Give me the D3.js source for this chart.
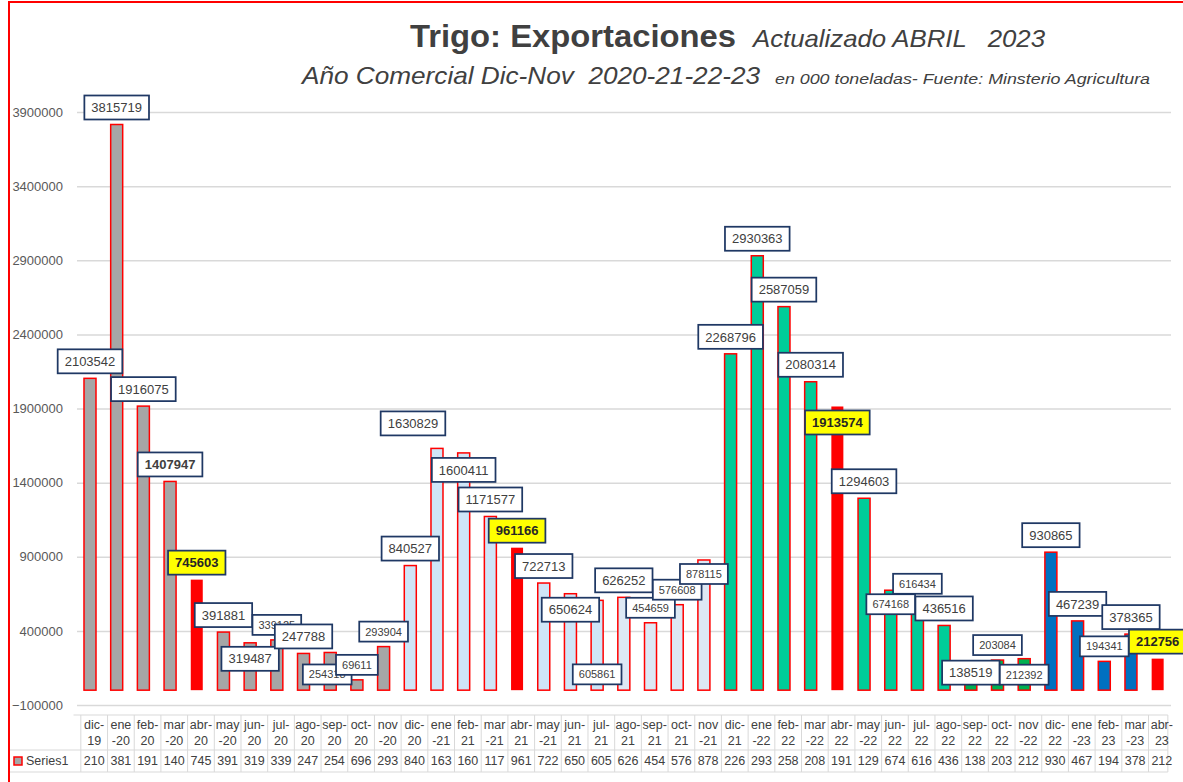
<!DOCTYPE html>
<meta charset="utf-8">
<title>Trigo: Exportaciones</title>
<style>
    body { margin: 0; background: #fff; }
    svg { display: block; font-family: "Liberation Sans", Arial, sans-serif; }
    .grid line { stroke: #d9d9d9; stroke-width: 1.5px; }
    .grid path { display: none; }
    .yaxis path { display: none; }
    .yaxis text { fill: #595959; font-size: 13px; }
    .cell { fill: none; stroke: #d9d9d9; stroke-width: 1px; }
    .titulo text { white-space: pre; }
</style>
<body>
</body>

<script src="https://d3js.org/d3.v7.min.js"></script>
<script>
    const width = 1183, height = 782;

    // categorias (mes-año) y exportaciones en toneladas
    const meses = ["dic-19", "ene-20", "feb-20", "mar-20", "abr-20", "may-20", "jun-20", "jul-20", "ago-20", "sep-20", "oct-20", "nov-20",
        "dic-20", "ene-21", "feb-21", "mar-21", "abr-21", "may-21", "jun-21", "jul-21", "ago-21", "sep-21", "oct-21", "nov-21",
        "dic-21", "ene-22", "feb-22", "mar-22", "abr-22", "may-22", "jun-22", "jul-22", "ago-22", "sep-22", "oct-22", "nov-22",
        "dic-22", "ene-23", "feb-23", "mar-23", "abr-23"];

    const toneladas = [2103542, 3815719, 1916075, 1407947, 745603, 391881, 319487, 339125, 247788, 254318, 69611, 293904,
        840527, 1630829, 1600411, 1171577, 961166, 722713, 650624, 605861, 626252, 454659, 576608, 878115,
        2268796, 2930363, 2587059, 2080314, 1913574, 1294603, 674168, 616434, 436516, 138519, 203084, 212392,
        930865, 467239, 194341, 378365, 212756];

    const yTicks = [-100000, 400000, 900000, 1400000, 1900000, 2400000, 2900000, 3400000, 3900000];

    // meses que Excel corta antes del guion
    const cortaAntes = ["ene", "mar", "may", "nov"];

    // --- estilo ---
    const colorBarra = i => {
        const mes = meses[i].slice(0, 3);
        if (mes === "abr") return "#ff0000";
        if (i < 12) return "#a6a6a6";
        if (i < 20) return "#cfe5f7";
        if (i < 24) return "#dde8f4";
        if (i >= 33 && i <= 35) return "#00b050";
        if (i < 36) return "#00cc99";
        return "#0070c0";
    };
    const resaltado = i => meses[i].startsWith("abr");
    const negrita = [3];
    const chica = [7, 9, 10, 11, 19, 21, 22, 23, 30, 31, 34, 35, 38];
    // ajustes manuales de las etiquetas (dx, dy) respecto de su posicion por defecto
    const ajuste = {6: [0, 33], 9: [-3, 37], 13: [-24, -8], 14: [0, 34], 18: [0, 33], 19: [0, 89],
        23: [0, 29], 28: [0, 33], 30: [0, 29], 33: [0, 20], 35: [0, 31]};

    const svg = d3.select("body").append("svg")
        .attr("width", width)
        .attr("height", height);

    const x = d3.scaleBand()
        .domain(meses)
        .range([76.65, 1171])
        .paddingInner(0.55)
        .paddingOuter(0.275);

    const y = d3.scaleLinear()
        .domain([-100000, 3900000])
        .range([705, 112]);

    // borde rojo del grafico
    svg.append("rect")
        .attr("x", 9).attr("y", 2)
        .attr("width", width + 20).attr("height", height + 20)
        .attr("fill", "none")
        .attr("stroke", "#ff0000")
        .attr("stroke-width", 2);

    // titulos
    const titulo = svg.append("g").attr("class", "titulo").attr("fill", "#404040");
    titulo.append("text").attr("x", 410).attr("y", 47)
        .attr("font-size", 32).attr("font-weight", "bold")
        .attr("textLength", 326).attr("lengthAdjust", "spacingAndGlyphs")
        .text("Trigo: Exportaciones");
    titulo.append("text").attr("x", 753).attr("y", 47)
        .attr("xml:space", "preserve")
        .attr("font-size", 24).attr("font-style", "italic")
        .attr("textLength", 292).attr("lengthAdjust", "spacingAndGlyphs")
        .text("Actualizado ABRIL   2023");
    titulo.append("text").attr("x", 302).attr("y", 84)
        .attr("xml:space", "preserve")
        .attr("font-size", 24).attr("font-style", "italic")
        .attr("textLength", 458).attr("lengthAdjust", "spacingAndGlyphs")
        .text("Año Comercial Dic-Nov  2020-21-22-23");
    titulo.append("text").attr("x", 775).attr("y", 84)
        .attr("font-size", 15).attr("font-style", "italic")
        .attr("textLength", 375).attr("lengthAdjust", "spacingAndGlyphs")
        .text("en 000 toneladas- Fuente: Minsterio Agricultura");

    // grilla y eje
    svg.append("g")
        .attr("class", "grid")
        .attr("transform", "translate(77,0)")
        .call(d3.axisLeft(y).tickValues(yTicks).tickSize(-(1171 - 77)).tickFormat(""));

    svg.append("g")
        .attr("class", "yaxis")
        .attr("transform", "translate(63,0)")
        .call(d3.axisLeft(y).tickValues(yTicks).tickSize(0).tickPadding(0).tickFormat(d3.format("d")))
        .selectAll("text")
        .attr("font-family", "Liberation Sans, Arial, sans-serif");

    // barras
    svg.append("g")
        .selectAll("rect")
        .data(toneladas)
        .join("rect")
        .attr("x", (d, i) => x(meses[i]))
        .attr("width", x.bandwidth())
        .attr("y", d => y(d))
        .attr("height", d => y(0) - y(d))
        .attr("fill", (d, i) => colorBarra(i))
        .attr("stroke", "#ff0000")
        .attr("stroke-width", (d, i) => resaltado(i) ? 0 : 1.5);

    // etiquetas de datos
    const etiquetas = svg.append("g")
        .selectAll("g")
        .data(toneladas)
        .join("g");

    etiquetas.each(function (d, i) {
        const g = d3.select(this);
        const small = chica.includes(i);
        const fs = small ? 11 : 13;
        const h = small ? 20 : 24;
        const pad = small ? 6 : 7;
        const off = ajuste[i] || [0, 0];
        const cx = x(meses[i]) + x.bandwidth() / 2 + off[0];
        const cy = y(d) - h / 2 - 5 + off[1];
        const rect = g.append("rect");
        const t = g.append("text")
            .attr("x", cx)
            .attr("y", cy)
            .attr("dy", "0.36em")
            .attr("text-anchor", "middle")
            .attr("font-size", fs)
            .attr("font-weight", resaltado(i) || negrita.includes(i) ? "bold" : "normal")
            .attr("fill", resaltado(i) ? "#262626" : "#404040")
            .text(d);
        const w = t.node().getComputedTextLength() + pad * 2;
        rect.attr("x", cx - w / 2)
            .attr("y", cy - h / 2)
            .attr("width", w)
            .attr("height", h)
            .attr("fill", resaltado(i) ? "#ffff00" : "#ffffff")
            .attr("stroke", "#1f3864")
            .attr("stroke-width", 1.75);
    });

    // tabla de datos
    const xt = x.copy().range([73.5, 73.5 + 41 * x.step()]);
    const tabla = svg.append("g");
    const x0 = xt.range()[0], x1 = xt.range()[1];

    tabla.append("line").attr("class", "cell").attr("x1", x0).attr("x2", x1).attr("y1", 715).attr("y2", 715);
    tabla.append("line").attr("class", "cell").attr("x1", 10).attr("x2", x1).attr("y1", 750).attr("y2", 750);
    tabla.append("line").attr("class", "cell").attr("x1", 10).attr("x2", x1).attr("y1", 772).attr("y2", 772);
    tabla.selectAll("line.v")
        .data(meses.map(m => xt(m)).concat([x1]))
        .join("line")
        .attr("class", "cell v")
        .attr("x1", d => d).attr("x2", d => d)
        .attr("y1", 715).attr("y2", 772);

    const celdas = tabla.selectAll("g.col")
        .data(meses)
        .join("g")
        .attr("class", "col")
        .attr("font-size", 12.5)
        .attr("fill", "#404040")
        .attr("text-anchor", "middle");

    celdas.append("text")
        .attr("x", d => xt(d) + xt.step() / 2)
        .attr("y", 729)
        .text(d => cortaAntes.includes(d.slice(0, 3)) ? d.slice(0, 3) : d.slice(0, 4));
    celdas.append("text")
        .attr("x", d => xt(d) + xt.step() / 2)
        .attr("y", 745)
        .text(d => cortaAntes.includes(d.slice(0, 3)) ? d.slice(3) : d.slice(4));
    celdas.append("text")
        .attr("x", d => xt(d) + xt.step() / 2)
        .attr("y", 765)
        .text((d, i) => String(toneladas[i]).slice(0, 3));

    // leyenda
    tabla.append("rect")
        .attr("x", 14).attr("y", 757).attr("width", 8).attr("height", 8)
        .attr("fill", "#a6a6a6").attr("stroke", "#ff0000").attr("stroke-width", 1.5);
    tabla.append("text")
        .attr("x", 26).attr("y", 765)
        .attr("font-size", 12.5).attr("fill", "#404040")
        .text("Series1");
</script>
